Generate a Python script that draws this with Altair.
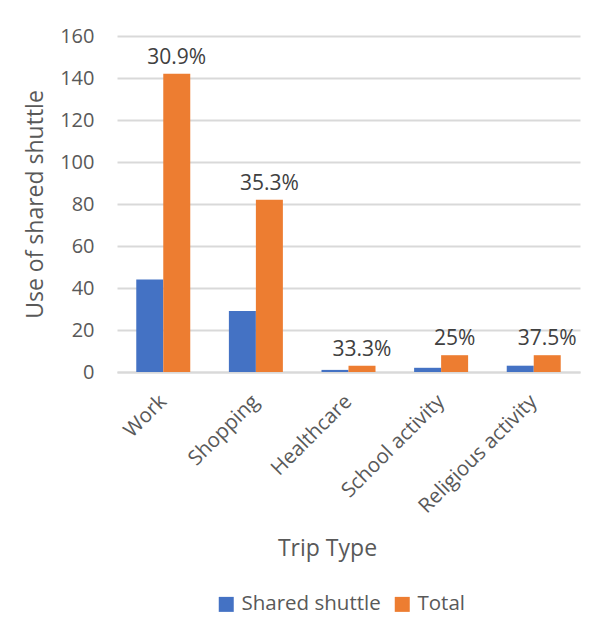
import altair as alt
import pandas as pd

trip_types = ["Work", "Shopping", "Healthcare", "School activity", "Religious activity"]
shared_shuttle = [44, 29, 1, 2, 3]
total = [142, 82, 3, 8, 8]
pct_labels = ["30.9%", "35.3%", "33.3%", "25%", "37.5%"]
series_names = ["Shared shuttle", "Total"]
y_ticks = [0, 20, 40, 60, 80, 100, 120, 140, 160]

rows = []
for t, s, tot in zip(trip_types, shared_shuttle, total):
    rows.append({"Trip": t, "Series": "Shared shuttle", "Value": s})
    rows.append({"Trip": t, "Series": "Total", "Value": tot})
df = pd.DataFrame(rows)
lab = pd.DataFrame({"Trip": trip_types, "Series": ["Total"] * 5, "Value": total, "Label": pct_labels})

FONT = "Open Sans"
x_enc = alt.X("Trip:N", sort=trip_types,
              scale=alt.Scale(paddingInner=0.417, paddingOuter=0.208),
              axis=alt.Axis(title="Trip Type", labelAngle=-45, labelFontSize=20.5, labelColor="#595959",
                            titleFontSize=23, titleColor="#595959", titleFontWeight="normal",
                            titleFont=FONT, labelFont=FONT,
                            domainColor="#D9D9D9", domainWidth=2, ticks=False, labelPadding=19,
                            labelOffset=-7,
                            titleX=210, titleAlign="center", titleY=176, titleBaseline="middle"))
xoff = alt.XOffset("Series:N", sort=series_names, scale=alt.Scale(paddingInner=0, paddingOuter=0))

bars = alt.Chart(df).mark_bar().encode(
    x=x_enc,
    xOffset=xoff,
    y=alt.Y("Value:Q", scale=alt.Scale(domain=[0, 160]),
            axis=alt.Axis(title="Use of shared shuttle", values=y_ticks, labelFontSize=20, labelColor="#595959",
                          titleFontSize=23, titleColor="#595959", titleFontWeight="normal",
                          titleFont=FONT, labelFont=FONT,
                          domain=False, ticks=False, labelPadding=23,
                          titleX=-82, titleBaseline="middle",
                          gridColor="#D9D9D9", gridWidth=2)),
    color=alt.Color("Series:N", sort=series_names,
                    scale=alt.Scale(domain=series_names, range=["#4472C4", "#ED7D31"]),
                    legend=alt.Legend(title=None, orient="none", legendX=99, legendY=558,
                                      direction="horizontal", symbolType="square", symbolSize=225,
                                      symbolStrokeWidth=0, labelFontSize=20.5, labelColor="#595959",
                                      labelFont=FONT, columnPadding=11, labelOffset=5)),
)

text = alt.Chart(lab).mark_text(fontSize=21, color="#404040", font=FONT, dy=-6, baseline="bottom").encode(
    x=alt.X("Trip:N", sort=trip_types),
    xOffset=alt.XOffset("Series:N", sort=series_names, scale=alt.Scale(domain=series_names)),
    y="Value:Q",
    text="Label:N",
)

chart = (bars + text).properties(
    width=463, height=336,
    autosize=alt.AutoSizeParams(type="none"),
    padding={"left": 109, "top": 28, "right": 20, "bottom": 250},
).configure_view(stroke=None).configure_axis(labelFont=FONT, titleFont=FONT)

chart.save("out.html", embed_options={"renderer": "svg", "actions": False})
